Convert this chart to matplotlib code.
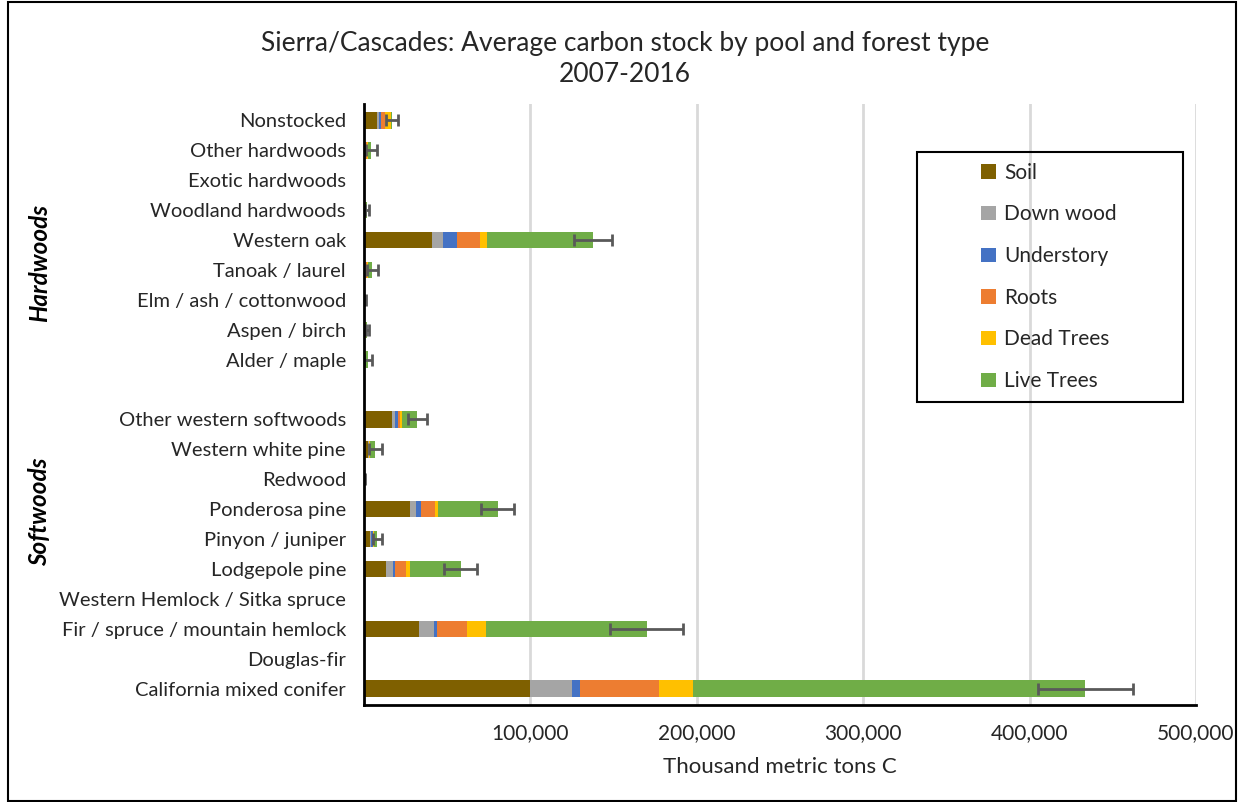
import numpy as np
import matplotlib.pyplot as plt
from matplotlib.patches import Rectangle, Patch
from matplotlib.ticker import FuncFormatter

plt.rcParams['font.family'] = ['Lato', 'DejaVu Sans']

# forest types, top to bottom ("" = spacer between groups)
forest_types = ["Nonstocked", "Other hardwoods", "Exotic hardwoods", "Woodland hardwoods",
                "Western oak", "Tanoak / laurel", "Elm / ash / cottonwood", "Aspen / birch",
                "Alder / maple", "",
                "Other western softwoods", "Western white pine", "Redwood", "Ponderosa pine",
                "Pinyon / juniper", "Lodgepole pine", "Western Hemlock / Sitka spruce",
                "Fir / spruce / mountain hemlock", "Douglas-fir", "California mixed conifer"]

# thousand metric tons C
soil       = [7800, 800, 0, 600, 41100, 800, 300, 300, 200, 0,
              17100, 2400, 300, 27900, 3600, 13500, 0, 32900, 0, 99700]
down_wood  = [1200, 600, 0, 200, 6200, 500, 100, 200, 200, 0,
              1800, 400, 0, 3600, 400, 4000, 0, 9000, 0, 25500]
understory = [1400, 100, 0, 100, 8500, 200, 0, 100, 100, 0,
              1400, 200, 0, 2600, 1200, 1000, 0, 2000, 0, 4400]
roots      = [2500, 500, 0, 200, 13800, 500, 100, 300, 300, 0,
              1600, 300, 0, 8400, 300, 6600, 0, 18100, 0, 47700]
dead_trees = [3600, 300, 0, 100, 4200, 300, 0, 100, 600, 0,
              1200, 300, 0, 1700, 300, 2800, 0, 11200, 0, 20500]
live_trees = [600, 2200, 0, 400, 64000, 2800, 100, 1000, 1000, 0,
              9000, 3300, 200, 36100, 2300, 30100, 0, 96700, 0, 235600]
errors     = [3600, 3200, 0, 1200, 11500, 3500, 600, 1000, 2400, 0,
              5700, 3800, 300, 10000, 2500, 9700, 0, 22000, 0, 28500]

pools = ["Soil", "Down wood", "Understory", "Roots", "Dead Trees", "Live Trees"]
colors = ["#7F6000", "#A5A5A5", "#4472C4", "#ED7D31", "#FFC000", "#70AD47"]
series = [soil, down_wood, understory, roots, dead_trees, live_trees]

fig = plt.figure(figsize=(12.44, 8.02), dpi=100)
ax = fig.add_axes([364 / 1244, (802 - 705) / 802, (1196 - 364) / 1244, (705 - 104) / 802])

y = np.arange(len(forest_types))
left = np.zeros(len(forest_types))
for vals, c in zip(series, colors):
    vals = np.array(vals, dtype=float)
    ax.barh(y, vals, left=left, height=0.55, color=c, zorder=3)
    left += vals

# error bars on the totals
mask = np.array(errors) > 0
ax.errorbar(left[mask], y[mask], xerr=np.array(errors)[mask], fmt='none',
            ecolor='#595959', elinewidth=2, capsize=4, capthick=2, zorder=4)

ax.set_xlim(0, 500000)
ax.set_ylim(len(forest_types) - 0.45, -0.55)
ax.set_yticks(y)
ax.set_yticklabels(forest_types)
ax.set_xticks([100000, 200000, 300000, 400000, 500000])
ax.xaxis.set_major_formatter(FuncFormatter(lambda v, p: f"{int(v):,}"))
ax.tick_params(axis='both', length=0, colors='#262626')
ax.tick_params(axis='y', pad=13, labelsize=14.5)
ax.tick_params(axis='x', pad=13, labelsize=15)
ax.grid(axis='x', color='#D9D9D9', linewidth=2, zorder=0)
ax.set_axisbelow(True)
for s in ['top', 'right']:
    ax.spines[s].set_visible(False)
for s in ['left', 'bottom']:
    ax.spines[s].set_linewidth(2)
    ax.spines[s].set_color('black')
    ax.spines[s].set_zorder(5)
ax.set_xlabel("Thousand metric tons C", fontsize=16, color='#262626', labelpad=10)

# title
fig.text(0.5025, (802 - 43) / 802, "Sierra/Cascades: Average carbon stock by pool and forest type",
         ha='center', va='center', fontsize=19, color='#262626')
fig.text(0.5025, (802 - 75) / 802, "2007-2016", ha='center', va='center', fontsize=19, color='#262626')

# group labels
fig.text(40 / 1244, (802 - 263) / 802, "Hardwoods", rotation=90, ha='center', va='center',
         fontsize=17.5, fontweight='bold', fontstyle='italic')
fig.text(40 / 1244, (802 - 512) / 802, "Softwoods", rotation=90, ha='center', va='center',
         fontsize=17.5, fontweight='bold', fontstyle='italic')

# legend with a hand-drawn box
handles = [Patch(facecolor=c, label=l) for c, l in zip(colors, pools)]
fig.legend(handles=handles, loc='center', bbox_to_anchor=(1049 / 1244, (802 - 277) / 802),
           frameon=False, fontsize=15, handlelength=0.7, handleheight=0.7,
           handletextpad=0.4, labelspacing=1.04, labelcolor='#262626')
fig.add_artist(Rectangle((917 / 1244, (802 - 402) / 802), 266 / 1244, 250 / 802,
                         transform=fig.transFigure, fill=False, edgecolor='black', linewidth=1.5))

# outer border
fig.add_artist(Rectangle((8 / 1244, 1 / 802), 1228 / 1244, 799 / 802,
                         transform=fig.transFigure, fill=False, edgecolor='black', linewidth=1.5))

plt.savefig("out.png", dpi=100)
